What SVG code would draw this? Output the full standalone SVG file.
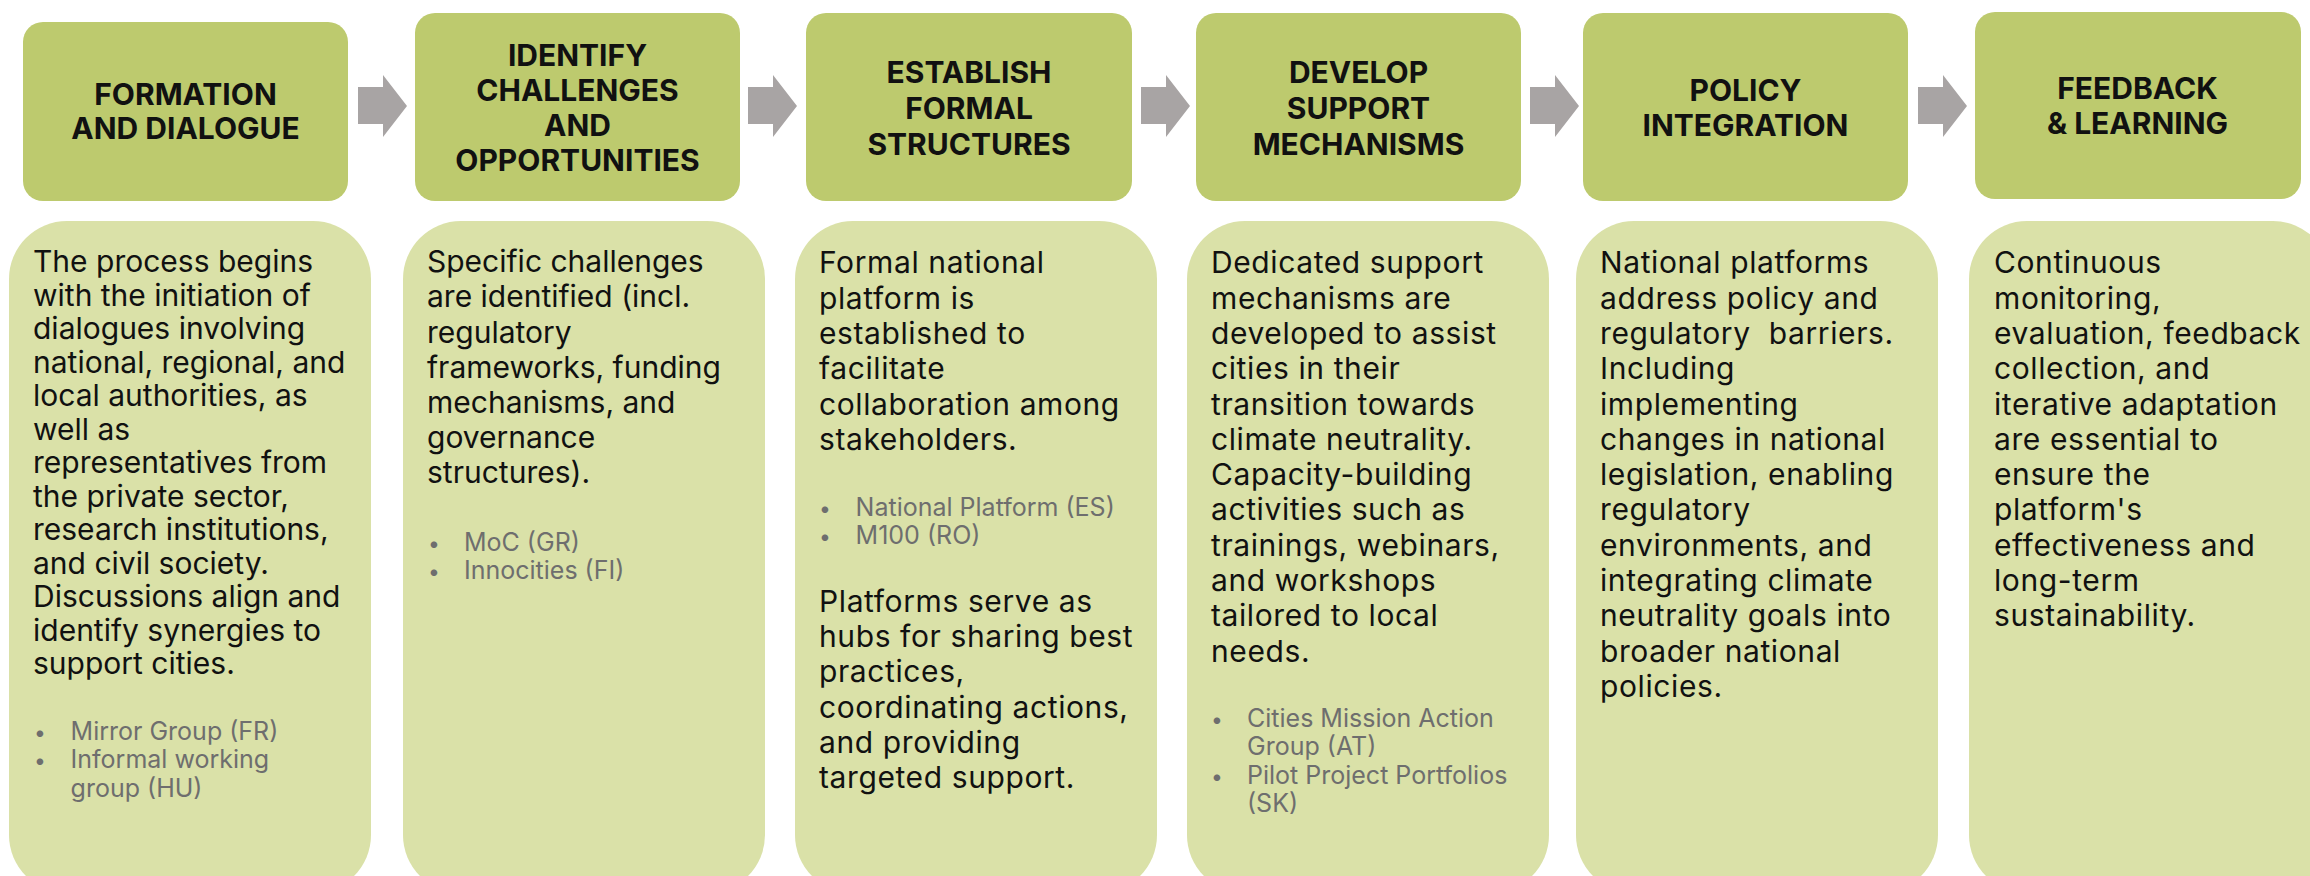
<svg xmlns="http://www.w3.org/2000/svg" width="2310" height="876" viewBox="0 0 2310 876">
<defs>
<style>
.hd{fill:#BDCA6E}
.bd{fill:#DAE1A8}
.ar{fill:#A8A4A4}
.t{font-family:Inter,"Open Sans","Liberation Sans",sans-serif;font-weight:700;font-size:30px;fill:#111;text-anchor:middle}
.b{font-family:Inter,"Open Sans","Liberation Sans",sans-serif;font-size:30px;fill:#111}
.b2{letter-spacing:0.6px}
.bl{font-family:Inter,"Open Sans","Liberation Sans",sans-serif;font-size:25px;fill:#6E6E6E}
.dot{font-size:21px}
</style>
</defs>
<rect width="2310" height="876" fill="#FFFFFF"/>
<g id="connectors">
<polygon class="ar" points="358,87 383,87 383,75 407,106 383,137 383,124 358,124"/>
<polygon class="ar" points="748,87 773,87 773,75 797,106 773,137 773,124 748,124"/>
<polygon class="ar" points="1141,87 1166,87 1166,75 1190,106 1166,137 1166,124 1141,124"/>
<polygon class="ar" points="1530,87 1555,87 1555,75 1579,106 1555,137 1555,124 1530,124"/>
<polygon class="ar" points="1918,87 1943,87 1943,75 1967,106 1943,137 1943,124 1918,124"/>
</g>
<g id="step1">
<rect class="hd" x="23" y="22" width="325" height="179" rx="20"/>
<text class="t"><tspan x="185.5" y="105">FORMATION</tspan><tspan x="185.5" y="139">AND DIALOGUE</tspan></text>
<rect class="bd" x="9" y="221" width="362" height="672" rx="58"/>
<text class="b"><tspan x="33" y="272.3">The process begins</tspan><tspan x="33" y="305.8">with the initiation of</tspan><tspan x="33" y="339.3">dialogues involving</tspan><tspan x="33" y="372.8">national, regional, and</tspan><tspan x="33" y="406.3">local authorities, as</tspan><tspan x="33" y="439.8">well as</tspan><tspan x="33" y="473.3">representatives from</tspan><tspan x="33" y="506.8">the private sector,</tspan><tspan x="33" y="540.3">research institutions,</tspan><tspan x="33" y="573.8">and civil society.</tspan><tspan x="33" y="607.3">Discussions align and</tspan><tspan x="33" y="640.8">identify synergies to</tspan><tspan x="33" y="674.3">support cities.</tspan></text>
<text class="bl"><tspan class="dot" x="34" y="740">•</tspan><tspan x="70.6" y="740">Mirror Group (FR)</tspan><tspan class="dot" x="34" y="768">•</tspan><tspan x="70.6" y="768">Informal working</tspan><tspan x="70.6" y="796.6">group (HU)</tspan></text>
</g>
<g id="step2">
<rect class="hd" x="415" y="13" width="325" height="188" rx="20"/>
<text class="t"><tspan x="577.5" y="65.5">IDENTIFY</tspan><tspan x="577.5" y="100.5">CHALLENGES</tspan><tspan x="577.5" y="135.5">AND</tspan><tspan x="577.5" y="170.5">OPPORTUNITIES</tspan></text>
<rect class="bd" x="403" y="221" width="362" height="672" rx="58"/>
<text class="b"><tspan x="427" y="272.3">Specific challenges</tspan><tspan x="427" y="307.4">are identified (incl.</tspan><tspan x="427" y="342.5">regulatory</tspan><tspan x="427" y="377.6">frameworks, funding</tspan><tspan x="427" y="412.7">mechanisms, and</tspan><tspan x="427" y="447.8">governance</tspan><tspan x="427" y="482.9">structures).</tspan></text>
<text class="bl"><tspan class="dot" x="428" y="550.5">•</tspan><tspan x="464" y="550.5">MoC (GR)</tspan><tspan class="dot" x="428" y="579">•</tspan><tspan x="464" y="579">Innocities (FI)</tspan></text>
</g>
<g id="step3">
<rect class="hd" x="806" y="13" width="326" height="188" rx="20"/>
<text class="t"><tspan x="969" y="83">ESTABLISH</tspan><tspan x="969" y="119">FORMAL</tspan><tspan x="969" y="154.5">STRUCTURES</tspan></text>
<rect class="bd" x="795" y="221" width="362" height="672" rx="58"/>
<text class="b b2"><tspan x="819" y="273.3">Formal national</tspan><tspan x="819" y="308.6">platform is</tspan><tspan x="819" y="343.9">established to</tspan><tspan x="819" y="379.2">facilitate</tspan><tspan x="819" y="414.5">collaboration among</tspan><tspan x="819" y="449.8">stakeholders.</tspan></text>
<text class="bl"><tspan class="dot" x="819" y="516">•</tspan><tspan x="855.6" y="516">National Platform (ES)</tspan><tspan class="dot" x="819" y="544">•</tspan><tspan x="855.6" y="544">M100 (RO)</tspan></text>
<text class="b b2"><tspan x="819" y="611.6">Platforms serve as</tspan><tspan x="819" y="646.9">hubs for sharing best</tspan><tspan x="819" y="682.2">practices,</tspan><tspan x="819" y="717.5">coordinating actions,</tspan><tspan x="819" y="752.8">and providing</tspan><tspan x="819" y="788.1">targeted support.</tspan></text>
</g>
<g id="step4">
<rect class="hd" x="1196" y="13" width="325" height="188" rx="20"/>
<text class="t"><tspan x="1358.5" y="83">DEVELOP</tspan><tspan x="1358.5" y="119">SUPPORT</tspan><tspan x="1358.5" y="154.5">MECHANISMS</tspan></text>
<rect class="bd" x="1187" y="221" width="362" height="672" rx="58"/>
<text class="b b2"><tspan x="1211" y="273.3">Dedicated support</tspan><tspan x="1211" y="308.6">mechanisms are</tspan><tspan x="1211" y="343.9">developed to assist</tspan><tspan x="1211" y="379.2">cities in their</tspan><tspan x="1211" y="414.5">transition towards</tspan><tspan x="1211" y="449.8">climate neutrality.</tspan><tspan x="1211" y="485.1">Capacity-building</tspan><tspan x="1211" y="520.4">activities such as</tspan><tspan x="1211" y="555.7">trainings, webinars,</tspan><tspan x="1211" y="591">and workshops</tspan><tspan x="1211" y="626.3">tailored to local</tspan><tspan x="1211" y="661.6">needs.</tspan></text>
<text class="bl"><tspan class="dot" x="1211" y="726.7">•</tspan><tspan x="1247" y="726.7">Cities Mission Action</tspan><tspan x="1247" y="755">Group (AT)</tspan><tspan class="dot" x="1211" y="784">•</tspan><tspan x="1247" y="784">Pilot Project Portfolios</tspan><tspan x="1247" y="812">(SK)</tspan></text>
</g>
<g id="step5">
<rect class="hd" x="1583" y="13" width="325" height="188" rx="20"/>
<text class="t"><tspan x="1745.5" y="100.5">POLICY</tspan><tspan x="1745.5" y="135.5">INTEGRATION</tspan></text>
<rect class="bd" x="1576" y="221" width="362" height="672" rx="58"/>
<text class="b b2"><tspan x="1600" y="273.3">National platforms</tspan><tspan x="1600" y="308.6">address policy and</tspan><tspan x="1600" y="343.9" xml:space="preserve">regulatory  barriers.</tspan><tspan x="1600" y="379.2">Including</tspan><tspan x="1600" y="414.5">implementing</tspan><tspan x="1600" y="449.8">changes in national</tspan><tspan x="1600" y="485.1">legislation, enabling</tspan><tspan x="1600" y="520.4">regulatory</tspan><tspan x="1600" y="555.7">environments, and</tspan><tspan x="1600" y="591">integrating climate</tspan><tspan x="1600" y="626.3">neutrality goals into</tspan><tspan x="1600" y="661.6">broader national</tspan><tspan x="1600" y="696.9">policies.</tspan></text>
</g>
<g id="step6">
<rect class="hd" x="1975" y="12" width="326" height="187" rx="20"/>
<text class="t"><tspan x="2137.5" y="99">FEEDBACK</tspan><tspan x="2137.5" y="134">&amp; LEARNING</tspan></text>
<rect class="bd" x="1969" y="221" width="362" height="672" rx="58"/>
<text class="b b2"><tspan x="1994" y="273.3">Continuous</tspan><tspan x="1994" y="308.6">monitoring,</tspan><tspan x="1994" y="343.9">evaluation, feedback</tspan><tspan x="1994" y="379.2">collection, and</tspan><tspan x="1994" y="414.5">iterative adaptation</tspan><tspan x="1994" y="449.8">are essential to</tspan><tspan x="1994" y="485.1">ensure the</tspan><tspan x="1994" y="520.4">platform's</tspan><tspan x="1994" y="555.7">effectiveness and</tspan><tspan x="1994" y="591">long-term</tspan><tspan x="1994" y="626.3">sustainability.</tspan></text>
</g>
</svg>
